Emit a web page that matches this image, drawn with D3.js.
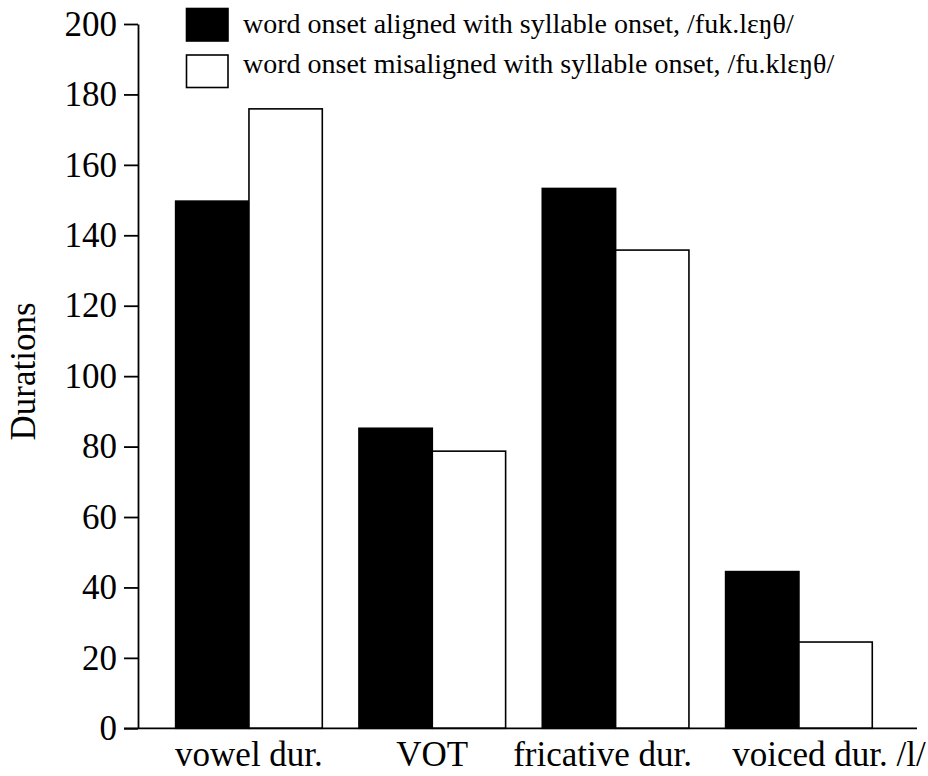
<!DOCTYPE html>
<html>
<head>
<meta charset="utf-8">
<script src="https://cdn.jsdelivr.net/npm/d3@7"></script>
<style>
  html, body { margin: 0; padding: 0; background: #fff; }
  svg { display: block; }
  text { font-family: "Liberation Serif", "Times New Roman", serif; fill: #000; }
</style>
</head>
<body>
<svg id="chart" width="928" height="776"></svg>
<script>
const categories = ["vowel dur.", "VOT", "fricative dur.", "voiced dur. /l/"];
const seriesNames = [
  "word onset aligned with syllable onset, /fuk.lɛŋθ/",
  "word onset misaligned with syllable onset, /fu.klɛŋθ/"
];
const alignedValues = [149.7, 85.2, 153.3, 44.5];
const misalignedValues = [175.9, 78.7, 135.8, 24.5];
const yTicks = [0, 20, 40, 60, 80, 100, 120, 140, 160, 180, 200];
const labelShift = [0, 0, -13, 30];
const seriesFill = ["#000", "#fff"];

const svg = d3.select("#chart");
const axisX = 138, baseY = 728.3, topY = 24;

const y = d3.scaleLinear().domain([0, 200]).range([baseY, topY]);
const x0 = d3.scaleBand().domain(categories).range([157.3, 890.6]).paddingInner(0.2).paddingOuter(0.1);
const x1 = d3.scaleBand().domain([0, 1]).range([0, x0.bandwidth()]);

const data = categories.map((c, i) => ({ cat: c, vals: [alignedValues[i], misalignedValues[i]] }));

// bars
const g = svg.append("g");
data.forEach(d => {
  d.vals.forEach((v, s) => {
    g.append("rect")
      .attr("x", x0(d.cat) + x1(s))
      .attr("y", y(v))
      .attr("width", x1.bandwidth())
      .attr("height", y(0) - y(v))
      .attr("fill", seriesFill[s])
      .attr("stroke", "#000")
      .attr("stroke-width", 1.6);
  });
});

// y axis
const yAxis = d3.axisLeft(y).tickValues(yTicks).tickSize(14).tickPadding(7).tickSizeOuter(0);
const ya = svg.append("g").attr("transform", `translate(${axisX},0)`).call(yAxis);
ya.select(".domain").attr("stroke", "#000").attr("stroke-width", 1.8);
ya.selectAll(".tick line").attr("stroke", "#000").attr("stroke-width", 1.8);
ya.selectAll(".tick text").attr("font-size", 35).attr("font-family", "Liberation Serif").attr("fill", "#000");

// x axis line
svg.append("line")
  .attr("x1", 124).attr("x2", 917)
  .attr("y1", baseY).attr("y2", baseY)
  .attr("stroke", "#000").attr("stroke-width", 1.8);

// x labels
categories.forEach((c, i) => {
  svg.append("text")
    .attr("x", x0(c) + x0.bandwidth() / 2 + labelShift[i])
    .attr("y", 766)
    .attr("text-anchor", "middle")
    .attr("font-size", 35)
    .text(c);
});

// y title
svg.append("text")
  .attr("transform", "translate(35,371.5) rotate(-90)")
  .attr("text-anchor", "middle")
  .attr("font-size", 35)
  .text("Durations");

// legend
seriesNames.forEach((name, i) => {
  const ly = i === 0 ? 8.5 : 55;
  svg.append("rect")
    .attr("x", 186.5).attr("y", ly)
    .attr("width", 41.5).attr("height", 32.5)
    .attr("fill", seriesFill[i])
    .attr("stroke", "#000").attr("stroke-width", 1.6);
  svg.append("text")
    .attr("x", 243)
    .attr("y", i === 0 ? 33 : 73)
    .attr("font-size", 28)
    .text(name);
});
</script>
</body>
</html>
